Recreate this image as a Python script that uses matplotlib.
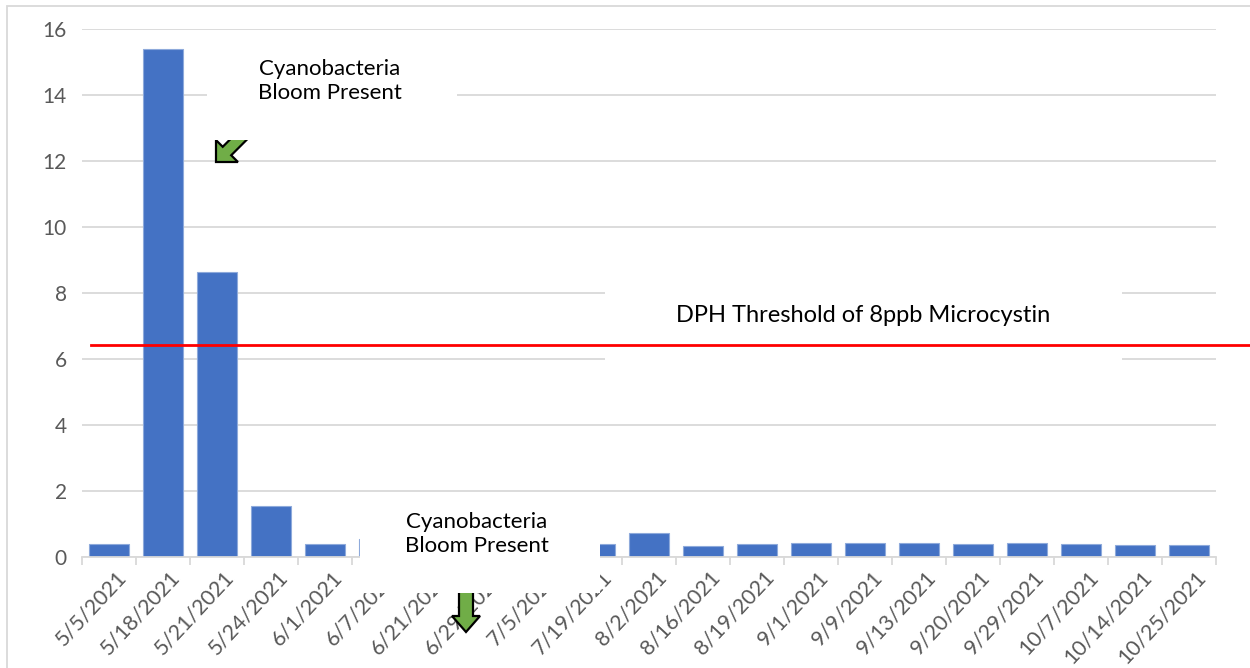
import matplotlib
matplotlib.use("Agg")
import matplotlib.pyplot as plt
from matplotlib.patches import Rectangle, FancyArrow

plt.rcParams['font.family'] = ['Lato', 'DejaVu Sans']

dates = ['5/5/2021', '5/18/2021', '5/21/2021', '5/24/2021', '6/1/2021', '6/7/2021',
         '6/21/2021', '6/29/2021', '7/5/2021', '7/19/2021', '8/2/2021', '8/16/2021',
         '8/19/2021', '9/1/2021', '9/9/2021', '9/13/2021', '9/20/2021', '9/29/2021',
         '10/7/2021', '10/14/2021', '10/25/2021']
microcystin = [0.38, 15.4, 8.65, 1.55, 0.4, 0.55, 0.4, 0.4, 0.4, 0.38, 0.72, 0.34,
               0.38, 0.42, 0.42, 0.42, 0.38, 0.43, 0.38, 0.37, 0.35]
threshold = 6.42
yticks = [0, 2, 4, 6, 8, 10, 12, 14, 16]

W, H = 1250, 668
fig = plt.figure(figsize=(W / 100, H / 100), dpi=100)


def fx(x):
    return x / W


def fy(y):
    return 1 - y / H


ax = fig.add_axes([fx(82), fy(557), fx(1216) - fx(82), fy(29) - fy(557)])

grey = '#d9d9d9'
x = list(range(len(dates)))
ax.bar(x, microcystin, width=0.73, color='#4472c4', edgecolor='#8eaadb', linewidth=0.8, zorder=2)
ax.set_xlim(-0.5, len(dates) - 0.5)
ax.set_ylim(0, 16)
ax.set_yticks(yticks)
ax.yaxis.grid(True, color=grey, linewidth=1.3)
ax.set_axisbelow(True)
for s in ['top', 'right', 'left']:
    ax.spines[s].set_visible(False)
ax.spines['bottom'].set_color(grey)
ax.spines['bottom'].set_linewidth(1.3)
ax.tick_params(axis='y', length=0, pad=11, labelsize=15, labelcolor='#595959')

# category separators below the axis
ax.set_xticks([i - 0.5 for i in range(len(dates) + 1)])
ax.set_xticklabels([])
ax.tick_params(axis='x', length=6, width=1.3, color=grey)
for i, d in enumerate(dates):
    ax.text(i + 0.12, -0.3, d, rotation=47, ha='right', va='top', rotation_mode='anchor',
            fontsize=15.5, color='#595959')

# white box behind threshold label, then the threshold line
ax.add_patch(Rectangle((fx(605), fy(368)), fx(1122) - fx(605), fy(285) - fy(368),
                       transform=fig.transFigure, facecolor='white', edgecolor='none', zorder=1.5))
ax.axhline(threshold, xmin=(91 - 82) / 1134, xmax=(1250 - 82) / 1134, color='#ff0000',
           linewidth=2.0, clip_on=False, zorder=3)
fig.text(fx(863), fy(315), 'DPH Threshold of 8ppb Microcystin', ha='center', va='center',
         fontsize=17, color='black', zorder=6)

# arrows (partly hidden by the text boxes), drawn in inches so the shape is not stretched
inch = fig.dpi_scale_trans
a1 = FancyArrow(2.58, (H - 120) / 100, -0.42, -0.42, width=0.12, head_width=0.31,
                head_length=0.155, length_includes_head=True,
                transform=inch, facecolor='#70ad47', edgecolor='black', linewidth=1.6, zorder=2)
fig.add_artist(a1)
a2 = FancyArrow(4.66, (H - 580) / 100, 0, -0.52, width=0.14, head_width=0.28,
                head_length=0.16, length_includes_head=True,
                transform=inch, facecolor='#70ad47', edgecolor='black', linewidth=1.6, zorder=2)
fig.add_artist(a2)

# white text boxes
pix = fig.transFigure
fig.add_artist(Rectangle((fx(207), fy(140)), fx(457) - fx(207), fy(40) - fy(140),
                         transform=pix, facecolor='white', edgecolor='none', zorder=3))
fig.add_artist(Rectangle((fx(360), fy(593)), fx(600) - fx(360), fy(497) - fy(593),
                         transform=pix, facecolor='white', edgecolor='none', zorder=3))
fig.text(fx(330), fy(81), 'Cyanobacteria\nBloom Present', ha='center', va='center',
         fontsize=16, linespacing=1.25, zorder=6)
fig.text(fx(477), fy(534), 'Cyanobacteria\nBloom Present', ha='center', va='center',
         fontsize=16, linespacing=1.25, zorder=6)

# chart frame
fig.add_artist(Rectangle((fx(7), fy(700)), fx(1300) - fx(7), fy(6) - fy(700), transform=pix,
                         facecolor='none', edgecolor=grey, linewidth=1.3, zorder=0))

fig.savefig('out.png', dpi=100, facecolor='white')
